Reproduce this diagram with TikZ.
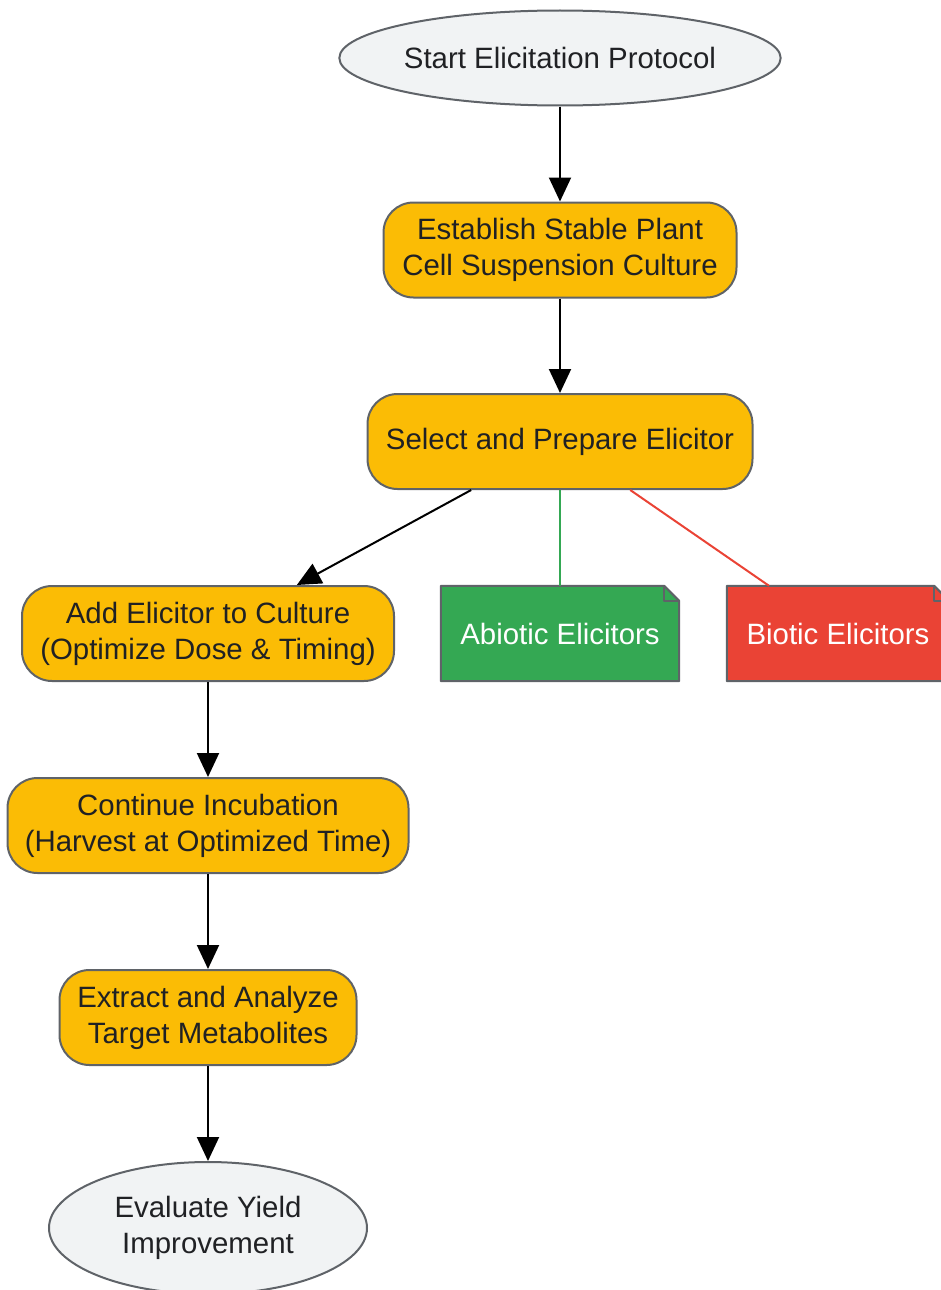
\documentclass[tikz,border=0pt]{standalone}
\usepackage{fontspec}
\setmainfont{Liberation Sans}
\usetikzlibrary{shapes.geometric,arrows.meta,backgrounds}

\definecolor{stepyellow}{HTML}{FBBC05}
\definecolor{abgreen}{HTML}{34A853}
\definecolor{bired}{HTML}{EA4335}
\definecolor{ovalgrey}{HTML}{F1F3F4}
\definecolor{edgegrey}{HTML}{5F6368}
\definecolor{inkdark}{HTML}{202124}

\tikzset{
    stepbox/.style={draw=edgegrey, line width=2pt, fill=stepyellow, rounded corners=30pt,
        minimum height=95pt, inner sep=0pt, align=center, text=inkdark},
    oval/.style={ellipse, draw=edgegrey, line width=2pt, fill=ovalgrey,
        inner sep=0pt, align=center, text=inkdark},
    notebox/.style={minimum height=95pt, inner sep=0pt, text=white},
    flow/.style={-{Triangle[length=24pt,width=22pt]}, line width=2pt, black},
}

% folded-corner outline behind a note node
\newcommand{\dogear}[2]{%
    \filldraw[draw=edgegrey, line width=2pt, fill=#2, line join=round]
        (#1.south west) -- (#1.north west) -- ([xshift=-15pt]#1.north east)
        -- ([yshift=-15pt]#1.north east) -- (#1.south east) -- cycle;
    \draw[edgegrey, line width=2pt, line join=round]
        ([xshift=-15pt]#1.north east) -- ([xshift=-15pt,yshift=-15pt]#1.north east)
        -- ([yshift=-15pt]#1.north east);
}

\begin{document}
\begin{tikzpicture}[x=1pt, y=-1pt, font=\fontsize{29.4}{36}\selectfont]
            \useasboundingbox (0,0) rectangle (941,1290);

            \node[oval, minimum width=436pt, minimum height=95pt] (S) at (560,58) {Start Elicitation Protocol};
            \node[stepbox, minimum width=353pt] (E) at (560,250) {Establish Stable Plant\\Cell Suspension Culture};
            \node[stepbox, minimum width=385pt] (P) at (560,441.5) {Select and Prepare Elicitor};
            \node[stepbox, minimum width=372pt] (A) at (208,633.5) {Add Elicitor to Culture\\(Optimize Dose \& Timing)};
            \node[notebox, minimum width=238pt] (AB) at (560,633.5) {Abiotic Elicitors};
            \node[notebox, minimum width=222pt] (BI) at (838,633.5) {Biotic Elicitors};
            \node[stepbox, minimum width=401pt] (C) at (208,825.5) {Continue Incubation\\(Harvest at Optimized Time)};
            \node[stepbox, minimum width=297pt] (X) at (208,1017.5) {Extract and Analyze\\Target Metabolites};
            \node[oval, minimum width=318pt, minimum height=132pt] (Y) at (208,1228) {Evaluate Yield\\Improvement};

            \begin{scope}[on background layer]
                \dogear{AB}{abgreen}
                \dogear{BI}{bired}
            \end{scope}

            \draw[flow] (S) -- (E);
            \draw[flow] (E) -- (P);
            \draw[flow] (P) -- (A);
            \draw[abgreen, line width=2pt] (P) -- (AB);
            \draw[bired, line width=2pt] (P) -- (BI);
            \draw[flow] (A) -- (C);
            \draw[flow] (C) -- (X);
            \draw[flow] (X) -- (Y);
        \end{tikzpicture}
\end{document}
